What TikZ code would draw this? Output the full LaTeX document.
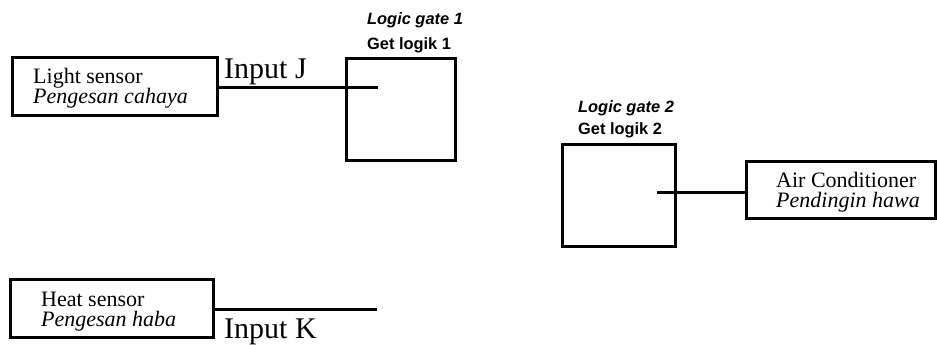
\documentclass[tikz,border=0pt]{standalone}
\usepackage{fontspec}
\setmainfont{Liberation Serif}
\setsansfont{Liberation Sans}
\begin{document}
\begin{tikzpicture}[x=1pt,y=-1pt,
  box/.style={draw,line width=3pt,inner sep=0pt,outer sep=0pt},
  wire/.style={line width=3pt},
  lbl/.style={anchor=base west,inner sep=0pt,font=\fontsize{22}{22}\selectfont},
  ilbl/.style={lbl,font=\fontsize{22}{22}\selectfont\itshape},
  inlbl/.style={anchor=base west,inner sep=0pt,font=\fontsize{30}{30}\selectfont},
  gtitle/.style={anchor=base west,inner sep=0pt,font=\sffamily\bfseries\itshape\fontsize{16.4}{16}\selectfont},
  gname/.style={anchor=base west,inner sep=0pt,font=\sffamily\bfseries\fontsize{16.4}{16}\selectfont}]
\useasboundingbox (0,0) rectangle (937,345);
% boxes
\node[box,minimum width=205pt,minimum height=57pt] (light) at (114.5,86.5) {};
\node[box,minimum width=203pt,minimum height=58pt] (heat) at (111.5,308) {};
\node[box,minimum width=109pt,minimum height=101pt] (gate1) at (400.5,109.5) {};
\node[box,minimum width=113pt,minimum height=102pt] (gate2) at (618.5,195) {};
\node[box,minimum width=189pt,minimum height=57pt] (ac) at (840.5,189.5) {};
% texts
\node[lbl] (l1) at (33,83) {Light sensor};
\node[ilbl] (l2) at (33,103) {Pengesan cahaya};
\node[lbl] (h1) at (41,306) {Heat sensor};
\node[ilbl] (h2) at (41,326) {Pengesan haba};
\node[lbl] (a1) at (776,187) {Air Conditioner};
\node[ilbl] (a2) at (776,207) {Pendingin hawa};
\node[inlbl] (inj) at (224,78) {Input J};
\node[inlbl] (ink) at (224,338) {Input K};
\node[gtitle] (g1t) at (367,25) {Logic gate 1};
\node[gname] (g1n) at (367,49) {Get logik 1};
\node[gtitle] (g2t) at (578,112) {Logic gate 2};
\node[gname] (g2n) at (578,134) {Get logik 2};
% wires
\coordinate (jend) at (378,87);
\coordinate (kend) at (377,309);
\coordinate (oend) at (657,192);
\draw[wire] (light.east |- jend) -- (jend);
\draw[wire] (heat.east |- kend) -- (kend);
\draw[wire] (oend) -- (ac.west |- oend);
\end{tikzpicture}
\end{document}
